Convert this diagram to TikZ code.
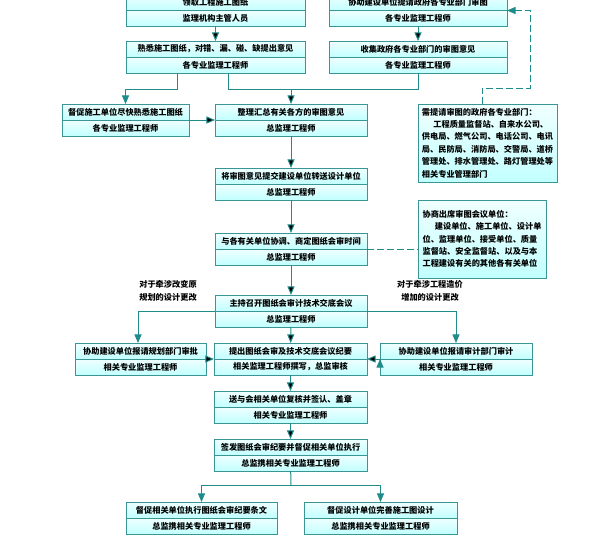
\documentclass[tikz,border=0pt]{standalone}
\usepackage{fontspec}
\setmainfont{Noto Sans CJK SC}
\usetikzlibrary{arrows,positioning}
\definecolor{boxline}{HTML}{3A9696}
\definecolor{flowline}{HTML}{1F8C8C}

\begin{document}
\begin{tikzpicture}[x=1pt,y=-1pt,->,>=triangle 45,
    font=\fontsize{8.2}{12.4}\selectfont\bfseries,
    task/.style={shape=rectangle,draw=boxline,line width=0.9pt,top color=cyan!6,bottom color=cyan!24,minimum height=16pt,inner sep=0pt,outer sep=0pt},
    note/.style={shape=rectangle,draw=boxline,line width=0.9pt,top color=cyan!6,bottom color=cyan!24,align=left,inner sep=2pt,outer sep=0pt},
    link/.style={draw=flowline,line width=1pt}]
                \useasboundingbox (0,0) rectangle (608,541);
                \node[task,minimum width=179pt](1)at(215.5, 2.5){领取工程施工图纸};
                \node[task,minimum width=179pt,below=0pt of 1](1_){监理机构主管人员};
                \node[task,minimum width=178pt](2)at(418, 2.5){协助建设单位提请政府各专业部门审图};
                \node[task,minimum width=178pt,below=0pt of 2](2_){各专业监理工程师};
                \node[task,minimum width=179pt](3)at(215.5, 49){熟悉施工图纸，对错、漏、碰、缺提出意见};
                \node[task,minimum width=179pt,below=0pt of 3](3_){各专业监理工程师};
                \node[task,minimum width=178pt](4)at(418, 49){收集政府各专业部门的审图意见};
                \node[task,minimum width=178pt,below=0pt of 4](4_){各专业监理工程师};
                \node[task,minimum width=127pt](5)at(125.5, 112){督促施工单位尽快熟悉施工图纸};
                \node[task,minimum width=127pt,below=0pt of 5](5_){各专业监理工程师};
                \node[task,minimum width=152pt](6)at(291, 112){整理汇总有关各方的审图意见};
                \node[task,minimum width=152pt,below=0pt of 6](6_){总监理工程师};
                \node[task,minimum width=152pt](7)at(291, 176){将审图意见提交建设单位转送设计单位};
                \node[task,minimum width=152pt,below=0pt of 7](7_){总监理工程师};
                \node[task,minimum width=152pt](8)at(291, 241){与各有关单位协调、商定图纸会审时间};
                \node[task,minimum width=152pt,below=0pt of 8](8_){总监理工程师};
                \node[task,minimum width=152pt](9)at(291, 303){主持召开图纸会审计技术交底会议};
                \node[task,minimum width=152pt,below=0pt of 9](9_){总监理工程师};
                \node[task,minimum width=131pt](10)at(140.5, 351){协助建设单位报请规划部门审批};
                \node[task,minimum width=131pt,below=0pt of 10](10_){相关专业监理工程师};
                \node[task,minimum width=153pt](11)at(290.5, 351){提出图纸会审及技术交底会议纪要};
                \node[task,minimum width=153pt,below=0pt of 11](11_){相关监理工程师撰写，总监审核};
                \node[task,minimum width=152pt](12)at(456, 351){协助建设单位报请审计部门审计};
                \node[task,minimum width=152pt,below=0pt of 12](12_){相关专业监理工程师};
                \node[task,minimum width=153pt](13)at(290.5, 399){送与会相关单位复核并签认、盖章};
                \node[task,minimum width=153pt,below=0pt of 13](13_){相关专业监理工程师};
                \node[task,minimum width=153pt](14)at(290.5, 447){签发图纸会审纪要并督促相关单位执行};
                \node[task,minimum width=153pt,below=0pt of 14](14_){总监携相关专业监理工程师};
                \node[task,minimum width=151pt](15)at(201.5, 510){督促相关单位执行图纸会审纪要条文};
                \node[task,minimum width=151pt,below=0pt of 15](15_){总监携相关专业监理工程师};
                \node[task,minimum width=153pt](16)at(380.5, 510){督促设计单位完善施工图设计};
                \node[task,minimum width=153pt,below=0pt of 16](16_){总监携相关专业监理工程师};

                \node[note,minimum width=139pt,minimum height=78pt](dept)at(487.5, 143){需提请审图的政府各专业部门：\\\hspace*{1.4em}工程质量监督站、自来水公司、\\供电局、燃气公司、电话公司、电讯\\局、民防局、消防局、交警局、道桥\\管理处、排水管理处、路灯管理处等\\相关专业管理部门};
                \node[note,minimum width=128pt,minimum height=78pt](units)at(482, 239){协商出席审图会议单位：\\\hspace*{1.5em}建设单位、施工单位、设计单\\位、监理单位、接受单位、质量\\监督站、安全监督站、以及与本\\工程建设有关的其他各有关单位};
                \node[align=center](plan)at(168, 291){对于牵涉改变原\\规划的设计更改};
                \node[align=center](cost)at(430, 291){对于牵涉工程造价\\增加的设计更改};

                \coordinate(j1)at(291, 89);
                \coordinate(j2)at(291, 485);
                \path[link](1_) edge (3)
                (2_) edge (4)
                (j1) edge (6)
                (5.south east) edge (6.south west)
                (6_) edge (7)
                (7_) edge (8)
                (8_) edge (9)
                (9_) edge (11)
                (10.south east) edge (11.south west)
                (12.south west) edge (11.south east)
                (11_) edge (13)
                (13_) edge (14);
                \draw[link]([xshift=-38.5pt]3_.south) -- ++(0,16) -| (5.north);
                \draw[link,-]([xshift=12.5pt]3_.south) |- (j1);
                \draw[link,-](4_.south) |- (j1);
                \draw[link](9.south west) -| ([xshift=-2.5pt]10.north);
                \draw[link](9.south east) -| (12.north);
                \draw[link,-](14_) -- (j2);
                \draw[link](j2) -| (15.north);
                \draw[link](j2) -| (16.north);
                \draw[link,dashed,dash pattern=on 7pt off 3pt]([xshift=-5.5pt]dept.north) -- ++(0,-16) -- ++(48,0) |- (2.south east);
                \draw[link,dashed,-,dash pattern=on 7pt off 3pt](8.south east) -- (8.south east -| units.west);
            \end{tikzpicture}
\end{document}
